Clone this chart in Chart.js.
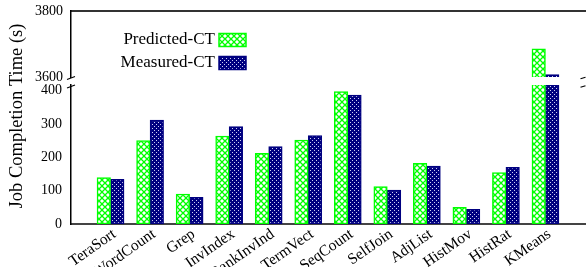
<!DOCTYPE html>
<html>
<head>
<meta charset="utf-8">
<script src="https://cdn.jsdelivr.net/npm/chart.js@4"></script>
<style>
    html, body { margin: 0; padding: 0; background: #fff; }
    #wrap { position: relative; width: 587px; height: 267px; }
    #wrap canvas { position: absolute; left: 0; top: 0; }
</style>
</head>
<body>
<div id="wrap">
    <canvas id="top-chart" width="587" height="267"></canvas>
    <canvas id="bottom-chart" width="587" height="267"></canvas>
</div>
<script>
// 데이터
const categories = ['TeraSort', 'WordCount', 'Grep', 'InvIndex', 'RankInvInd', 'TermVect',
    'SeqCount', 'SelfJoin', 'AdjList', 'HistMov', 'HistRat', 'KMeans'];
const predictedCT = [139, 250, 90, 264, 212, 252, 397, 112, 182, 50, 154, 3685];
const measuredCT = [134, 312, 80, 292, 232, 265, 387, 102, 174, 44, 170, 3607];
const upperTicks = [3600, 3800];
const lowerTicks = [0, 100, 200, 300, 400];
const seriesNames = ['Predicted-CT', 'Measured-CT'];

// x축 양 끝에 빈 칸 하나씩 (gnuplot xrange [-1:12] 처럼)
const labels = [''].concat(categories, ['']);
const pad = arr => [null].concat(arr, [null]);

const SERIF = "'Liberation Serif', 'DejaVu Serif', serif";

/**
 * 해칭 패턴 만들기
 */
function makePattern(kind) {
    const c = document.createElement('canvas');
    const ctx = c.getContext('2d');
    if (kind === 'cross') {
        c.width = 6; c.height = 6;
        ctx.fillStyle = '#ffffff';
        ctx.fillRect(0, 0, 6, 6);
        ctx.strokeStyle = '#00ff00';
        ctx.lineWidth = 1.3;
        ctx.beginPath();
        ctx.moveTo(0, 0); ctx.lineTo(6, 6);
        ctx.moveTo(6, 0); ctx.lineTo(0, 6);
        ctx.stroke();
    } else {
        c.width = 4; c.height = 4;
        ctx.fillStyle = '#000080';
        ctx.fillRect(0, 0, 4, 4);
        ctx.fillStyle = '#d0d0f4';
        ctx.fillRect(0, 0, 1, 1);
        ctx.fillRect(2, 2, 1, 1);
    }
    return ctx.createPattern(c, 'repeat');
}

const greenFill = makePattern('cross');
const blueFill = makePattern('dots');

function makeDatasets() {
    return [
        {
            label: seriesNames[0],
            data: pad(predictedCT),
            backgroundColor: greenFill,
            borderColor: '#00ff00',
            borderWidth: 1.5,
            borderSkipped: false,
            barThickness: 13.5,
            clip: 0
        },
        {
            label: seriesNames[1],
            data: pad(measuredCT),
            backgroundColor: blueFill,
            borderColor: '#000080',
            borderWidth: 1.5,
            borderSkipped: false,
            barThickness: 13.5,
            clip: 0
        }
    ];
}

const tickFont = { family: SERIF, size: 14 };

// 라벨 넘침 여백 제거 -> 차트 영역을 고정 위치로
function noPad(s) {
    s.paddingTop = 0;
    s.paddingBottom = 0;
    s.paddingLeft = 0;
    s.paddingRight = 0;
}

// 범례, 축 끊김 표시, y축 제목
const decorPlugin = {
    id: 'decor',
    afterDraw(chart) {
        const ctx = chart.ctx;
        const area = chart.chartArea;
        ctx.save();

        // 범례
        ctx.font = `17px ${SERIF}`;
        ctx.textAlign = 'right';
        ctx.textBaseline = 'middle';
        chart.data.datasets.forEach((ds, i) => {
            const y = 40 + i * 23;
            ctx.fillStyle = '#000';
            ctx.fillText(ds.label, 215, y);
            ctx.fillStyle = ds.backgroundColor;
            ctx.fillRect(219, y - 6.5, 27, 13);
            ctx.strokeStyle = ds.borderColor;
            ctx.lineWidth = 1.5;
            ctx.strokeRect(219, y - 6.5, 27, 13);
        });

        // 축 끊김 표시
        ctx.strokeStyle = '#000';
        ctx.lineWidth = 1.2;
        [[area.left, 3], [area.right - 2, 1.5]].forEach(([x, h]) => {
            [78, 86.5].forEach(y => {
                ctx.beginPath();
                ctx.moveTo(x - h - 1, y + h / 2);
                ctx.lineTo(x + h + 1, y - h / 2);
                ctx.stroke();
            });
        });

        // y축 제목
        ctx.translate(17, 116);
        ctx.rotate(-Math.PI / 2);
        ctx.textAlign = 'center';
        ctx.textBaseline = 'middle';
        ctx.font = `18.5px ${SERIF}`;
        ctx.fillStyle = '#000';
        ctx.fillText('Job Completion Time (s)', 0, 0);
        ctx.restore();
    }
};

// 위쪽 (3600~3800) 차트
new Chart(document.getElementById('top-chart'), {
    type: 'bar',
    data: { labels: labels, datasets: makeDatasets() },
    options: {
        responsive: false,
        animation: false,
        devicePixelRatio: 1,
        layout: { padding: { top: 11, bottom: 190, left: 0, right: 2 } },
        plugins: { legend: { display: false }, tooltip: { enabled: false } },
        scales: {
            x: {
                position: 'top',
                offset: false,
                grid: { display: false, drawTicks: false },
                ticks: { display: false },
                border: { display: true, color: '#333', width: 2 },
                afterFit: s => { s.height = 0; noPad(s); }
            },
            y: {
                min: upperTicks[0],
                max: upperTicks[upperTicks.length - 1],
                afterBuildTicks: s => { s.ticks = upperTicks.map(v => ({ value: v })); },
                grid: { display: false, drawTicks: false },
                ticks: { font: tickFont, color: '#000', padding: 8, callback: v => String(v) },
                border: { display: true, color: '#000', width: 1.5 },
                afterFit: s => { s.width = 71; noPad(s); }
            }
        }
    }
});

// 아래쪽 (0~417) 차트
new Chart(document.getElementById('bottom-chart'), {
    type: 'bar',
    data: { labels: labels, datasets: makeDatasets() },
    options: {
        responsive: false,
        animation: false,
        devicePixelRatio: 1,
        layout: { padding: { top: 85, bottom: 0, left: 0, right: 2 } },
        plugins: { legend: { display: false }, tooltip: { enabled: false } },
        scales: {
            x: {
                offset: false,
                grid: { display: false, drawTicks: false },
                ticks: {
                    autoSkip: false,
                    minRotation: 35,
                    maxRotation: 35,
                    font: { family: SERIF, size: 15.5 },
                    color: '#000',
                    padding: 1,
                    labelOffset: 4
                },
                border: { display: true, color: '#444', width: 2 },
                afterFit: s => { s.height = 43; noPad(s); }
            },
            y: {
                min: 0,
                max: 417,
                afterBuildTicks: s => { s.ticks = lowerTicks.map(v => ({ value: v })); },
                grid: { display: false, drawTicks: false },
                ticks: { font: tickFont, color: '#000', padding: 9, callback: v => String(v) },
                border: { display: true, color: '#000', width: 1.5 },
                afterFit: s => { s.width = 71; noPad(s); }
            }
        }
    },
    plugins: [decorPlugin]
});
</script>
</body>
</html>
